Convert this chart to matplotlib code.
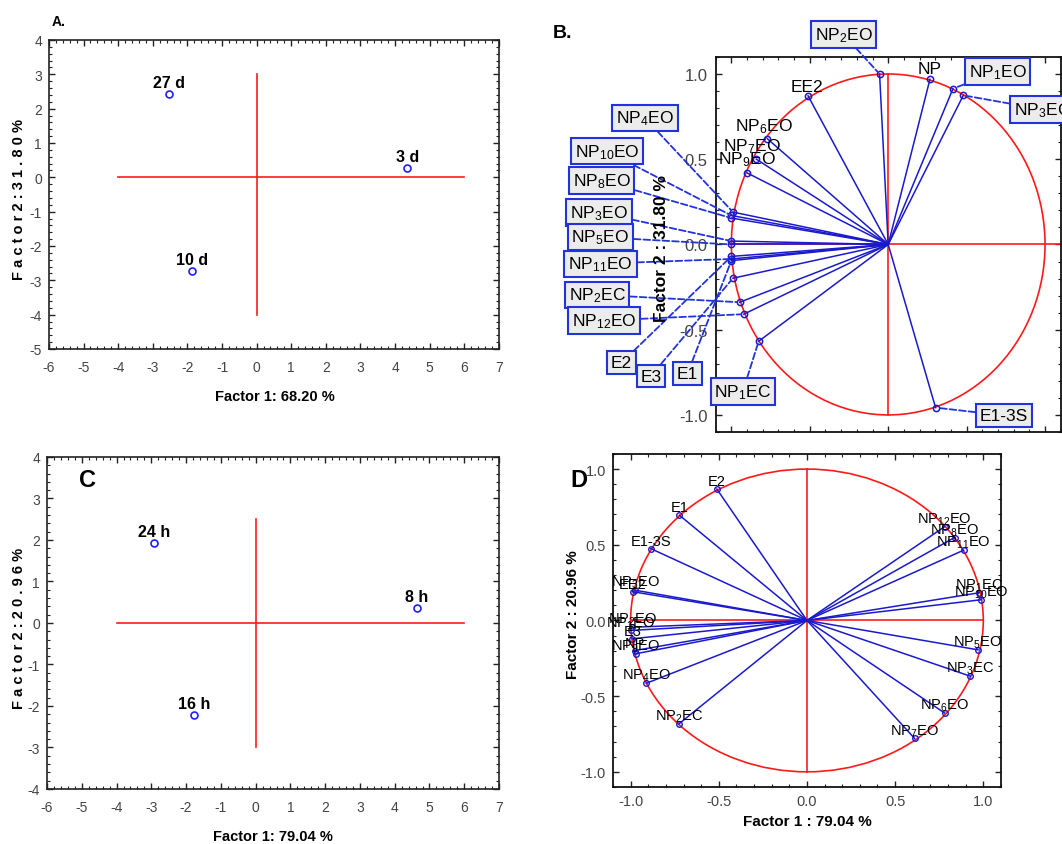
import re
import matplotlib.pyplot as plt
from matplotlib.patches import Circle
from matplotlib.ticker import MultipleLocator, FormatStrFormatter

plt.rcParams["axes.unicode_minus"] = False
plt.rcParams["mathtext.fontset"] = "custom"
plt.rcParams["mathtext.rm"] = "Liberation Sans"
plt.rcParams["mathtext.it"] = "Liberation Sans:italic"
plt.rcParams["mathtext.bf"] = "Liberation Sans:bold"

ARIAL = ["Liberation Sans", "DejaVu Sans"]
RED = "#ff1a1a"
BLUE = "#1a1acc"
TICK_GREY = "#444444"

# ---- panel A: sample scores (days) ----
day_labels = ["27 d", "3 d", "10 d"]
day_f1 = [-2.53, 4.35, -1.86]
day_f2 = [2.43, 0.27, -2.72]

# ---- panel C: sample scores (hours) ----
hour_labels = ["24 h", "8 h", "16 h"]
hour_f1 = [-2.91, 4.64, -1.78]
hour_f2 = [1.92, 0.35, -2.22]

# ---- panel B: variable loadings ----
b_vars = ["NP2EO", "NP", "NP1EO", "NP3EC", "EE2", "NP6EO", "NP7EO", "NP9EO",
          "NP4EO", "NP10EO", "NP8EO", "NP3EO", "NP5EO", "E2", "NP11EO", "E1",
          "E3", "NP2EC", "NP12EO", "NP1EC", "E1-3S"]
b_f1 = [-0.055, 0.266, 0.413, 0.479, -0.511, -0.77, -0.84, -0.90,
        -0.99, -1.0, -1.0, -1.0, -1.0, -1.0, -1.0, -1.0,
        -0.99, -0.947, -0.921, -0.826, 0.302]
b_f2 = [1.0, 0.969, 0.914, 0.875, 0.872, 0.62, 0.50, 0.42,
        0.19, 0.17, 0.155, 0.02, 0.0, -0.07, -0.085, -0.095,
        -0.198, -0.339, -0.409, -0.568, -0.957]

# ---- panel D: variable loadings ----
d_vars = ["E2", "E1", "E1-3S", "NP3EO", "EE2", "NP2EO", "NP1EO", "E3", "NP",
          "NP9EO", "NP4EO", "NP2EC", "NP12EO", "NP8EO", "NP11EO", "NP1EC",
          "NP10EO", "NP5EO", "NP3EC", "NP6EO", "NP7EO"]
d_f1 = [-0.511, -0.723, -0.886, -0.975, -0.989, -0.99, -1.0, -0.99, -0.977,
        -0.97, -0.911, -0.727, 0.780, 0.837, 0.888, 0.977,
        0.989, 0.970, 0.926, 0.780, 0.610]
d_f2 = [0.868, 0.695, 0.475, 0.20, 0.19, -0.045, -0.066, -0.121, -0.199,
        -0.22, -0.415, -0.684, 0.619, 0.548, 0.464, 0.183,
        0.137, -0.194, -0.368, -0.611, -0.779]

# label placement for panel B (layout only): boxed callouts and plain text
b_boxed = {
    "NP2EO": (-0.285, 1.232), "NP1EO": (0.697, 1.015), "NP3EC": (0.985, 0.792),
    "NP4EO": (-1.552, 0.743), "NP10EO": (-1.794, 0.547), "NP8EO": (-1.828, 0.375),
    "NP3EO": (-1.845, 0.188), "NP5EO": (-1.835, 0.043), "NP11EO": (-1.835, -0.113),
    "NP2EC": (-1.856, -0.295), "NP12EO": (-1.811, -0.446), "E2": (-1.701, -0.694),
    "E3": (-1.513, -0.772), "E1": (-1.28, -0.757), "NP1EC": (-0.927, -0.862),
    "E1-3S": (0.738, -1.003),
}
b_plain = {
    "NP": (0.264, 1.032), "EE2": (-0.518, 0.925), "NP6EO": (-0.795, 0.70),
    "NP7EO": (-0.869, 0.582), "NP9EO": (-0.901, 0.504),
}


def sub(name):
    return re.sub(r"^NP(\d+)", r"NP$_{\1}$", name)


def px(x, y):
    return x / 1062, 1 - y / 845


def style_scores(ax, ylo, yhi):
    ax.set_xlim(-6, 7)
    ax.set_ylim(ylo, yhi)
    ax.xaxis.set_major_locator(MultipleLocator(1))
    ax.yaxis.set_major_locator(MultipleLocator(1))
    ax.xaxis.set_minor_locator(MultipleLocator(0.2))
    ax.yaxis.set_minor_locator(MultipleLocator(0.2))
    ax.tick_params(which="both", direction="in", top=True, right=True,
                   colors="#222222", labelcolor=TICK_GREY)
    ax.tick_params(which="major", length=4, width=1, labelsize=10)
    ax.tick_params(which="minor", length=2, width=0.8)
    ax.tick_params(axis="x", pad=8)
    ax.tick_params(axis="y", pad=5)
    for lab in ax.get_xticklabels() + ax.get_yticklabels():
        lab.set_family(ARIAL)
    for s in ax.spines.values():
        s.set_linewidth(1.2)
        s.set_color("#222222")


def score_panel(ax, f1, f2, labels, ylo, yhi, vline):
    style_scores(ax, ylo, yhi)
    ax.plot([-4, 6], [0, 0], color=RED, lw=1.2)
    ax.plot([0, 0], vline, color=RED, lw=1.2)
    ax.plot(f1, f2, "o", ms=5, mfc="none", mec="#1f1fff", mew=1.2)
    for x, y, t in zip(f1, f2, labels):
        ax.annotate(t, (x, y), xytext=(0, 4), textcoords="offset pixels",
                    ha="center", va="bottom", fontsize=11.5, fontweight="bold",
                    family=ARIAL)


def style_loadings(ax):
    ax.set_xlim(-1.1, 1.1)
    ax.set_ylim(-1.1, 1.1)
    ax.xaxis.set_major_locator(MultipleLocator(0.5))
    ax.yaxis.set_major_locator(MultipleLocator(0.5))
    ax.xaxis.set_minor_locator(MultipleLocator(0.1))
    ax.yaxis.set_minor_locator(MultipleLocator(0.1))
    ax.xaxis.set_major_formatter(FormatStrFormatter("%.1f"))
    ax.yaxis.set_major_formatter(FormatStrFormatter("%.1f"))
    ax.tick_params(which="both", direction="in", top=True, right=True,
                   colors="#222222", labelcolor=TICK_GREY)
    ax.tick_params(which="major", length=4, width=1)
    ax.tick_params(which="minor", length=2, width=0.8)
    for s in ax.spines.values():
        s.set_linewidth(1.3)
        s.set_color("#111111")


fig = plt.figure(figsize=(10.62, 8.45), dpi=100)

# ---------------- A ----------------
axA = fig.add_axes([0.0461, 0.5858, 0.4237, 0.3657])
score_panel(axA, day_f1, day_f2, day_labels, -5, 4, [-4, 3])
fig.text(*px(52, 22), "A.", fontsize=10, fontweight="bold", family=ARIAL,
         ha="left", va="center")
fig.text(*px(275, 397), "Factor 1: 68.20 %", fontsize=10.5, fontweight="bold",
         family=ARIAL, ha="center", va="center")
fig.text(*px(19, 199), "F a c t o r 2 : 3 1 . 8 0 %", fontsize=10.5,
         fontweight="bold", family=ARIAL, rotation=90, ha="center", va="center")

# ---------------- C ----------------
axC = fig.add_axes([0.0443, 0.0651, 0.4256, 0.3929])
score_panel(axC, hour_f1, hour_f2, hour_labels, -4, 4, [-3, 2.5])
fig.text(*px(87, 481), "C", fontsize=17, fontweight="bold", family=ARIAL,
         ha="center", va="center")
fig.text(*px(273, 837), "Factor 1: 79.04 %", fontsize=10.5, fontweight="bold",
         family=ARIAL, ha="center", va="center")
fig.text(*px(19, 628), "F a c t o r 2 : 2 0 . 9 6 %", fontsize=10.5,
         fontweight="bold", family=ARIAL, rotation=90, ha="center", va="center")

# ---------------- B ----------------
axB = fig.add_axes([0.6739, 0.4876, 0.3249, 0.4438])
style_loadings(axB)
axB.tick_params(labelbottom=False, labelsize=12, pad=6)
for lab in axB.get_yticklabels():
    lab.set_family(ARIAL)
axB.add_patch(Circle((0, 0), 1, fill=False, ec=RED, lw=1.2))
axB.plot([-1, 1.1], [0, 0], color=RED, lw=1.2)
axB.plot([0, 0], [-1, 1], color=RED, lw=1.2)
for x, y in zip(b_f1, b_f2):
    axB.plot([0, x], [0, y], color=BLUE, lw=1.1)
axB.plot(b_f1, b_f2, "o", ms=4.5, mfc="none", mec=BLUE, mew=1.1)

for name, x, y in zip(b_vars, b_f1, b_f2):
    if name in b_boxed:
        axB.annotate(sub(name), (x, y), xytext=b_boxed[name], textcoords="data",
                     ha="center", va="center", fontsize=12.5, family=ARIAL,
                     annotation_clip=False, zorder=5,
                     bbox=dict(boxstyle="square,pad=0.22", fc="#ececec",
                               ec="#2233dd", lw=1.5),
                     arrowprops=dict(arrowstyle="-", ls="--", color="#2233dd",
                                     lw=1.3, shrinkA=0, shrinkB=2))
    elif name in b_plain:
        axB.text(*b_plain[name], sub(name), ha="center", va="center",
                 fontsize=12.5, family=ARIAL, clip_on=False)

fig.text(*px(563, 33), "B.", fontsize=14, fontweight="bold", family=ARIAL,
         ha="center", va="center")
fig.text(*px(662, 248), "Factor 2 : 31.80 %", fontsize=12.5, fontweight="bold",
         family=ARIAL, rotation=90, ha="center", va="center", zorder=4)

# ---------------- D ----------------
axD = fig.add_axes([0.5772, 0.0675, 0.3653, 0.3941])
style_loadings(axD)
axD.tick_params(labelsize=10.5, pad=5)
for lab in axD.get_xticklabels() + axD.get_yticklabels():
    lab.set_family(ARIAL)
axD.add_patch(Circle((0, 0), 1, fill=False, ec=RED, lw=1.2))
axD.plot([-1, 1], [0, 0], color=RED, lw=1.2)
axD.plot([0, 0], [-1, 1], color=RED, lw=1.2)
for x, y in zip(d_f1, d_f2):
    axD.plot([0, x], [0, y], color=BLUE, lw=1.1)
axD.plot(d_f1, d_f2, "o", ms=4, mfc="none", mec=BLUE, mew=1.0)
for name, x, y in zip(d_vars, d_f1, d_f2):
    axD.annotate(sub(name), (x, y), xytext=(0, 8), textcoords="offset pixels",
                 ha="center", va="center", fontsize=10.5, family=ARIAL,
                 annotation_clip=False)

fig.text(*px(579, 481), "D", fontsize=17, fontweight="bold", family=ARIAL,
         ha="center", va="center")
fig.text(*px(807, 822), "Factor 1 : 79.04 %", fontsize=11, fontweight="bold",
         family=ARIAL, ha="center", va="center")
fig.text(*px(573, 615), "Factor 2 : 20.96 %", fontsize=11, fontweight="bold",
         family=ARIAL, rotation=90, ha="center", va="center")

fig.savefig("out.png", dpi=100)
